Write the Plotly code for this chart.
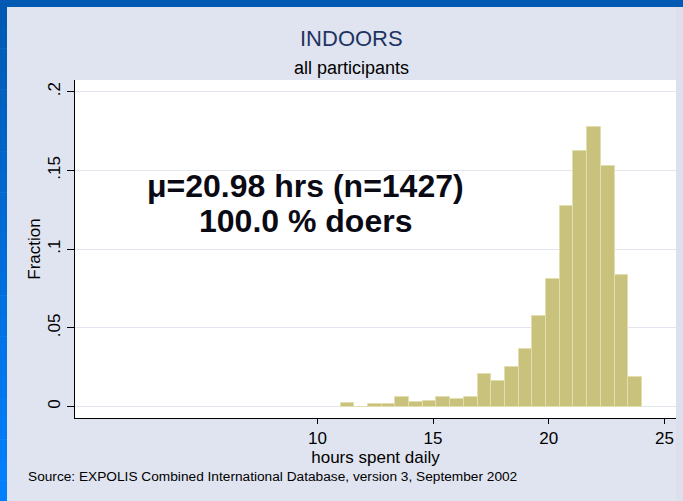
import plotly.graph_objects as go

# histogram of hours spent indoors (fraction of participants per bin)
hist_start = 11.0
bin_width = 0.5923
fractions = [
    0.0021, 0.0, 0.0014, 0.0014, 0.0063, 0.0028, 0.0035, 0.0063,
    0.0049, 0.0063, 0.0210, 0.0161, 0.0252, 0.0364, 0.0575, 0.0813,
    0.1275, 0.1625, 0.1773, 0.1528, 0.0834, 0.0189,
]
bin_centers = [hist_start + bin_width * (i + 0.5) for i in range(len(fractions))]

y_ticks = [0, 0.05, 0.1, 0.15, 0.2]
y_tick_labels = ["0", ".05", ".1", ".15", ".2"]
x_ticks = [10, 15, 20, 25]

W, H = 683, 501
L, R, T, B = 75, 7, 80, 83
pw, ph = W - L - R, H - T - B


def px(x):
    return (x - L) / pw


def py(y):
    return (H - B - y) / ph


fig = go.Figure(
    go.Bar(
        x=bin_centers,
        y=fractions,
        width=bin_width,
        marker=dict(color="#C9C27D", line=dict(color="#E2DEAE", width=1)),
        hoverinfo="skip",
    )
)

fig.update_xaxes(
    range=[-0.476, 25.5],
    tickvals=x_ticks,
    ticks="outside",
    ticklen=5,
    tickcolor="black",
    showline=True,
    linecolor="black",
    linewidth=1,
    showgrid=False,
    zeroline=False,
    tickfont=dict(family="Liberation Sans", size=17, color="black"),
    title=dict(text="hours spent daily", standoff=0,
               font=dict(family="Liberation Sans", size=17, color="black")),
)
fig.update_yaxes(
    range=[-0.0072, 0.2074],
    tickvals=y_ticks,
    ticktext=y_tick_labels,
    tickangle=-90,
    ticks="outside",
    ticklen=7,
    tickcolor="black",
    showline=True,
    linecolor="black",
    linewidth=1,
    showgrid=True,
    gridcolor="#E1E6EE",
    zeroline=False,
    tickfont=dict(family="Liberation Sans", size=17, color="black"),
    title=dict(text="Fraction", standoff=0,
               font=dict(family="Liberation Sans", size=17, color="black")),
)

# blue slide frame and right strip
shapes = [
    dict(type="rect", xref="paper", yref="paper", x0=px(0), x1=px(W),
         y0=py(0), y1=py(7), fillcolor="#005AB4", line=dict(width=0)),
    dict(type="rect", xref="paper", yref="paper", x0=px(676), x1=px(W),
         y0=py(7), y1=py(H), fillcolor="#DCE0EC", line=dict(width=0)),
]
n_steps = 24
c0, c1 = (0, 90, 180), (0, 128, 255)
for i in range(n_steps):
    t = i / (n_steps - 1)
    c = tuple(int(c0[k] + (c1[k] - c0[k]) * t) for k in range(3))
    y0 = 7 + (H - 7) * i / n_steps
    y1 = 7 + (H - 7) * (i + 1) / n_steps
    shapes.append(dict(type="rect", xref="paper", yref="paper",
                       x0=px(0), x1=px(7), y0=py(y0), y1=py(y1 + 0.5),
                       fillcolor="rgb(%d,%d,%d)" % c, line=dict(width=0)))

annotations = [
    dict(text="INDOORS", x=px(351), y=py(38), font=dict(size=22, color="#1F3462")),
    dict(text="all participants", x=px(351), y=py(68), font=dict(size=18, color="black")),
    dict(text="<b>μ=20.98 hrs (n=1427)</b>", x=px(305), y=py(186),
         font=dict(size=32, color="#0A0A14")),
    dict(text="<b>100.0 % doers</b>", x=px(305), y=py(221),
         font=dict(size=32, color="#0A0A14")),
    dict(text="Source: EXPOLIS Combined International Database, version 3, September 2002",
         x=px(26), y=py(477), xanchor="left", font=dict(size=13.7, color="black")),
]
for a in annotations:
    a.setdefault("xanchor", "center")
    a.update(xref="paper", yref="paper", yanchor="middle", showarrow=False)
    a["font"]["family"] = "Liberation Sans"

fig.update_layout(
    width=W,
    height=H,
    margin=dict(l=L, r=R, t=T, b=B),
    paper_bgcolor="#E0E4F0",
    plot_bgcolor="white",
    showlegend=False,
    bargap=0,
    shapes=shapes,
    annotations=annotations,
)

fig.write_html(
    "out.html",
    config={"displayModeBar": False},
    post_script="document.body.style.margin = '0';",
)
